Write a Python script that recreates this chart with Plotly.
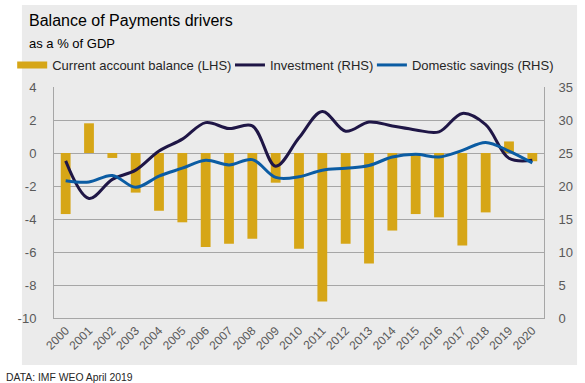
import plotly.graph_objects as go

years = [str(y) for y in range(2000, 2021)]
current_account = [-3.7, 1.8, -0.3, -2.4, -3.5, -4.2, -5.7, -5.5, -5.2, -1.8, -5.8,
                   -9.0, -5.5, -6.7, -4.7, -3.7, -3.9, -5.6, -3.6, 0.7, -0.5]
investment = [23.8, 18.1, 21.0, 22.4, 25.3, 27.1, 29.6, 28.7, 29.1, 23.0, 27.3,
              31.3, 28.3, 29.7, 29.1, 28.5, 28.2, 31.0, 29.3, 24.2, 23.9]
savings = [20.8, 20.6, 21.6, 19.8, 21.5, 22.7, 23.9, 23.2, 24.0, 21.3, 21.4,
           22.4, 22.7, 23.1, 24.4, 24.8, 24.4, 25.4, 26.6, 25.3, 23.5]
left_ticks = [-10, -8, -6, -4, -2, 0, 2, 4]
right_ticks = [0, 5, 10, 15, 20, 25, 30, 35]

BG = "#EBEBEB"
GRID = "#A6A6A6"
TXT = "#595959"
GOLD = "#D6A617"
FONT = "Liberation Sans, Arial, sans-serif"

L, R, T, B = 40, 41, 87, 65
W, H = 585, 383
pw, ph = W - L - R, H - T - B

def px_x(x):
    return (x - L) / pw

def px_y(y):
    return (H - B - y) / ph

fig = go.Figure()
fig.add_trace(go.Bar(x=years, y=current_account, name="Current account balance (LHS)",
                     marker=dict(color=GOLD, line=dict(width=0)), width=0.42,
                     showlegend=False))
# legend-only entry to mimic the wide bar swatch
fig.add_trace(go.Scatter(x=[None], y=[None], name="Current account balance (LHS)",
                         mode="lines", line=dict(color=GOLD, width=7), legend="legend"))
fig.add_trace(go.Scatter(x=years, y=investment, name="Investment (RHS)", yaxis="y2",
                         mode="lines", line=dict(color="#1F1646", width=3, shape="spline", smoothing=1.0),
                         legend="legend2"))
fig.add_trace(go.Scatter(x=years, y=savings, name="Domestic savings (RHS)", yaxis="y2",
                         mode="lines", line=dict(color="#0B5CA3", width=3, shape="spline", smoothing=1.0),
                         legend="legend3"))

fig.add_shape(type="rect", xref="paper", yref="paper", layer="below",
              x0=px_x(7), x1=px_x(578), y0=px_y(365), y1=px_y(5),
              fillcolor=BG, line=dict(width=0))

def leg(xpx):
    return dict(orientation="h", x=px_x(xpx), y=px_y(65), xanchor="left", yanchor="middle",
                font=dict(size=13, color="#262626"), bgcolor="rgba(0,0,0,0)",
                itemwidth=30)

fig.update_layout(
    width=W, height=H,
    margin=dict(l=L, r=R, t=T, b=B, pad=0),
    paper_bgcolor="white", plot_bgcolor=BG,
    font=dict(family=FONT, size=13, color=TXT),
    showlegend=True,
    legend=leg(-3),
    legend2=leg(221),
    legend3=leg(367),
    xaxis=dict(type="category", tickangle=-45, tickfont=dict(size=12, color=TXT),
               showgrid=False, showline=True, linecolor=GRID, linewidth=1,
               ticks="", mirror=False),
    yaxis=dict(range=[-10, 4], tickvals=left_ticks, ticktext=[str(v) for v in left_ticks],
               showgrid=True, gridcolor=GRID, gridwidth=1, zeroline=True,
               zerolinecolor=GRID, zerolinewidth=1, showline=True, linecolor=GRID,
               tickfont=dict(size=13, color=TXT), ticks="", ticklabelstandoff=14),
    yaxis2=dict(range=[0, 35], tickvals=right_ticks, overlaying="y", side="right",
                showgrid=False, zeroline=False, showline=True, linecolor=GRID,
                tickfont=dict(size=13, color=TXT), ticks="", ticklabelstandoff=11),
    annotations=[
        dict(text="Balance of Payments drivers", xref="paper", yref="paper",
             x=px_x(12), y=px_y(21), xanchor="left", yanchor="middle", showarrow=False,
             font=dict(size=16, color="#000000")),
        dict(text="as a % of GDP", xref="paper", yref="paper",
             x=px_x(12), y=px_y(44), xanchor="left", yanchor="middle", showarrow=False,
             font=dict(size=13, color="#000000")),
        dict(text="DATA: IMF WEO April 2019", xref="paper", yref="paper",
             x=px_x(-11), y=px_y(377), xanchor="left", yanchor="middle", showarrow=False,
             font=dict(size=10.4, color="#262626")),
    ],
)

fig.write_html("out.html", config={"displayModeBar": False},
               post_script="document.body.style.margin='0px';document.body.style.overflow='hidden';")
